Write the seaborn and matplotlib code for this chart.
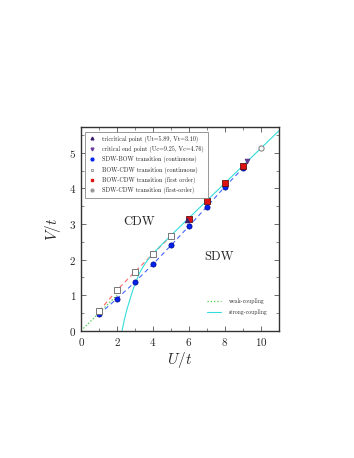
import pandas as pd
import numpy as np
import matplotlib
matplotlib.use('Agg')
import matplotlib.pyplot as plt
from matplotlib.ticker import MultipleLocator
from matplotlib.lines import Line2D
import seaborn as sns

# phase boundary data
u_sdw_bow = [1, 2, 3, 4, 5, 6, 7, 8, 9]
v_sdw_bow = [0.46, 0.90, 1.37, 1.87, 2.40, 2.94, 3.49, 4.05, 4.57]

u_bow_cdw = [1, 2, 3, 4, 5]
v_bow_cdw = [0.55, 1.14, 1.66, 2.16, 2.66]

u_bow_cdw_1st = [6, 7, 8, 9]
v_bow_cdw_1st = [3.14, 3.65, 4.15, 4.64]

u_sdw_cdw = [10]
v_sdw_cdw = [5.13]

u_tri, v_tri = [5.89], [3.10]
u_cep, v_cep = [9.25], [4.76]

u_weak = [0, 1, 2]
v_weak = [0, 0.5, 1.0]

u_strong = [2.28, 2.4, 2.55, 2.7, 2.85, 3.0, 3.25, 3.5, 3.75, 4.0, 4.5,
            5, 6, 7, 8, 9, 10, 11]
v_strong = [0.0, 0.3, 0.6, 0.85, 1.1, 1.32, 1.62, 1.84, 2.02, 2.17, 2.43,
            2.68, 3.17, 3.66, 4.15, 4.64, 5.13, 5.62]

sns.set_style("ticks")
plt.rcParams['font.family'] = ['cmr10', 'DejaVu Serif']
plt.rcParams['mathtext.fontset'] = 'cm'
plt.rcParams['axes.formatter.use_mathtext'] = True
plt.rcParams['axes.unicode_minus'] = False

fig = plt.figure(figsize=(3.54, 4.58), dpi=100)
ax = fig.add_axes([0.229, 0.278, 0.559, 0.445])

# lines
sns.lineplot(x=u_weak, y=v_weak, ax=ax, color='#44cc44', lw=0.9,
             linestyle=':', label='weak-coupling', sort=False)
sns.lineplot(x=u_strong, y=v_strong, ax=ax, color='#33dddd', lw=0.8,
             label='strong-coupling', sort=False)
ax.plot(u_bow_cdw, v_bow_cdw, color='#ff6666', lw=0.8, ls=(0, (4, 3)), zorder=1)
ax.plot(u_sdw_bow, v_sdw_bow, color='#4466ff', lw=0.8, ls=(0, (4, 3)), zorder=1)
line_handles = ax.get_legend_handles_labels()

# markers
sns.scatterplot(x=u_tri, y=v_tri, ax=ax, marker='^', s=12, color='#3b1f6e',
                edgecolor='#3b1f6e', lw=0.5, zorder=5)
sns.scatterplot(x=u_cep, y=v_cep, ax=ax, marker='v', s=12, color='#6a3d9a',
                edgecolor='#4b2a7a', lw=0.5, zorder=5)
sns.scatterplot(x=u_sdw_bow, y=v_sdw_bow, ax=ax, marker='o', s=14,
                color='#0022ee', edgecolor='#000088', lw=0.5, zorder=4)
sns.scatterplot(x=u_bow_cdw, y=v_bow_cdw, ax=ax, marker='s', s=16,
                facecolor='white', edgecolor='#777777', lw=0.7, zorder=4)
sns.scatterplot(x=u_bow_cdw_1st, y=v_bow_cdw_1st, ax=ax, marker='s', s=16,
                color='#dd1111', edgecolor='#661111', lw=0.6, zorder=4)
sns.scatterplot(x=u_sdw_cdw, y=v_sdw_cdw, ax=ax, marker='o', s=14,
                facecolor='white', edgecolor='#777777', lw=0.7, zorder=4)

mk = dict(ls='none', markersize=2.0)
h = [Line2D([], [], marker='^', color='#3b1f6e', **mk),
     Line2D([], [], marker='v', color='#6a3d9a', **mk),
     Line2D([], [], marker='o', color='#0022ee', **mk),
     Line2D([], [], marker='s', markerfacecolor='white', markeredgecolor='#777777', mew=0.5, **mk),
     Line2D([], [], marker='s', color='#dd1111', **mk),
     Line2D([], [], marker='o', color='#999999', **mk)]
labels = ['tricritical point (Ut=5.89, Vt=3.10)',
          'critical end point (Uc=9.25, Vc=4.76)',
          'SDW-BOW transition (continuous)',
          'BOW-CDW transition (continuous)',
          'BOW-CDW transition (first order)',
          'SDW-CDW transition (first-order)']
leg1 = ax.legend(h, labels, loc='upper left', bbox_to_anchor=(0.005, 0.99),
                 fontsize=4.4, labelspacing=0.55, handlelength=1.0,
                 handletextpad=1.2, borderpad=0.6, fancybox=False,
                 edgecolor='#888888', framealpha=1)
leg1.get_frame().set_linewidth(0.6)
ax.add_artist(leg1)
ax.legend(line_handles[0], line_handles[1], loc='lower right',
          bbox_to_anchor=(0.97, 0.05), fontsize=4.2, frameon=False,
          handlelength=2.4, handletextpad=1.4, labelspacing=0.9)

ax.text(3.25, 3.06, 'CDW', fontsize=9, ha='center', va='center')
ax.text(7.68, 2.08, 'SDW', fontsize=9, ha='center', va='center')

ax.set_xlim(0, 11)
ax.set_ylim(0, 5.73)
ax.xaxis.set_major_locator(MultipleLocator(2))
ax.xaxis.set_minor_locator(MultipleLocator(1))
ax.yaxis.set_major_locator(MultipleLocator(1))
ax.yaxis.set_minor_locator(MultipleLocator(0.5))
ax.tick_params(which='both', direction='in', top=True, right=True,
               labelsize=8, color='#555555')
ax.tick_params(which='major', length=3.5, width=0.6)
ax.tick_params(which='minor', length=2, width=0.5)
for s in ax.spines.values():
    s.set_linewidth(1.0)
    s.set_color('#333333')
ax.set_xlabel('$U/t$', fontsize=11, labelpad=2)
ax.set_ylabel('$V/t$', fontsize=11, labelpad=4)

plt.savefig('out.png', dpi=100)
plt.close()
